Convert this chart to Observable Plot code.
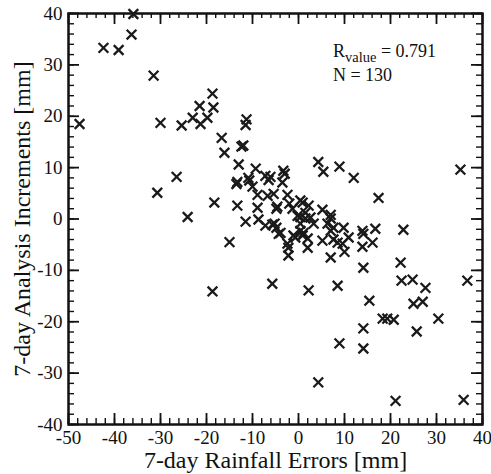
<!DOCTYPE html>
<html>
<head>
<meta charset="utf-8">
<script src="https://cdn.jsdelivr.net/npm/d3@7"></script>
<script src="https://cdn.jsdelivr.net/npm/@observablehq/plot@0.6"></script>
<style>
  html, body { margin: 0; padding: 0; background: #fff; }
  #chart { width: 491px; height: 474px; }
</style>
</head>
<body>
<div id="chart"></div>
<script>
// [rainfall error (mm), analysis increment (mm)]
const points = [
  [-47.6,18.5],[-42.4,33.3],[-39.1,32.9],[-36.3,35.9],[-35.9,39.9],[-31.5,27.9],[-30.0,18.7],[-30.7,5.1],
  [-25.4,18.2],[-26.5,8.2],[-23.0,19.7],[-21.5,22.0],[-21.3,18.5],[-19.8,19.7],[-18.7,24.4],[-18.5,21.7],
  [-24.1,0.4],[-18.3,3.2],[-16.7,15.8],[-16.1,12.9],[-12.4,14.1],[-12.0,14.3],[-13.0,10.6],[-13.5,6.8],
  [-13.3,7.2],[-13.3,2.6],[-11.5,-0.5],[-11.3,19.4],[-11.5,18.3],[-10.9,8.0],[-10.7,7.5],[-10.0,6.3],
  [-15.0,-4.5],[-18.7,-14.1],[-9.3,9.8],[-8.9,4.7],[-8.9,2.2],[-8.7,-0.1],[-7.2,8.4],[-6.5,7.6],
  [-3.3,9.4],[-3.0,8.8],[-3.5,7.1],[-6.7,4.5],[-5.4,4.9],[-4.6,2.4],[-4.8,2.0],[-2.4,4.7],
  [-2.0,3.0],[-1.3,2.0],[0.9,3.2],[0.4,3.6],[2.2,2.6],[1.5,1.2],[5.2,1.8],[7.0,0.8],
  [-0.2,0.6],[4.3,11.1],[5.4,9.2],[8.9,10.2],[12.0,8.0],[17.4,4.1],[35.2,9.6],[-7.2,-1.3],
  [-5.7,-1.1],[-5.2,-0.9],[-4.8,-1.7],[-3.9,-2.7],[-4.3,-2.9],[-2.4,-4.8],[-2.2,-5.6],[-2.2,-7.1],
  [-1.1,-3.2],[-0.7,-3.6],[0.4,-2.3],[0.4,-0.9],[1.5,0.1],[2.6,0.3],[3.3,-0.9],[0.9,-3.2],
  [1.1,-2.7],[2.0,-3.8],[2.0,-5.6],[5.2,-4.2],[6.3,-0.9],[7.0,-2.3],[7.6,-4.0],[7.0,-7.5],
  [8.5,-4.6],[7.6,-1.7],[9.8,-1.7],[10.9,-3.6],[9.6,-4.8],[10.0,-6.4],[14.1,-2.9],[13.9,-2.3],
  [16.7,-1.9],[16.1,-4.6],[13.9,-5.4],[22.8,-2.1],[14.1,-9.5],[22.2,-8.5],[22.4,-12.0],[24.8,-11.8],
  [27.6,-13.4],[36.7,-12.0],[-5.7,-12.6],[2.2,-13.9],[8.5,-13.0],[15.4,-15.9],[25.0,-16.5],[27.0,-16.1],
  [18.3,-19.4],[19.3,-19.4],[20.7,-19.6],[30.4,-19.4],[14.1,-21.3],[25.7,-21.9],[8.9,-24.2],[14.1,-25.2],
  [4.3,-31.8],[21.1,-35.4],[35.9,-35.2],[7.0,0.1],[-6.1,8.2],[0.4,0.4]
];
const xMajor = [-50,-40,-30,-20,-10,0,10,20,30,40];
const yMajor = [-40,-30,-20,-10,0,10,20,30,40];
const xMinor = d3.range(-50, 41, 2);
const yMinor = d3.range(-40, 41, 2);
const xTitle = "7-day Rainfall Errors [mm]";
const yTitle = "7-day Analysis Increments [mm]";
const rValue = "0.791";
const nCount = "130";

const W = 491, H = 474;
const mL = 68, mR = 9, mT = 13, mB = 50;
const innerW = W - mL - mR, innerH = H - mT - mB;
const font = "'Liberation Serif', 'Times New Roman', serif";
const majorLen = 11, minorLen = 6;

const plot = Plot.plot({
  width: W, height: H,
  marginLeft: mL, marginRight: mR, marginTop: mT, marginBottom: mB,
  style: { fontFamily: font, background: "#fff", color: "#111", overflow: "visible" },
  x: { domain: [-50, 40] },
  y: { domain: [-40, 40] },
  marks: [
    // minor and major ticks, pointing inward on all four sides
    Plot.tickX(xMinor, { x: d => d, insetTop: innerH - minorLen, stroke: "#111", strokeWidth: 1.4 }),
    Plot.tickX(xMinor, { x: d => d, insetBottom: innerH - minorLen + 1, stroke: "#111", strokeWidth: 1.4 }),
    Plot.tickX(xMajor, { x: d => d, insetTop: innerH - majorLen, stroke: "#111", strokeWidth: 1.8 }),
    Plot.tickX(xMajor, { x: d => d, insetBottom: innerH - majorLen, stroke: "#111", strokeWidth: 1.8 }),
    Plot.tickY(yMinor, { y: d => d, insetRight: innerW - minorLen, stroke: "#111", strokeWidth: 1.4 }),
    Plot.tickY(yMinor, { y: d => d, insetLeft: innerW - minorLen, stroke: "#111", strokeWidth: 1.4 }),
    Plot.tickY(yMajor, { y: d => d, insetRight: innerW - majorLen, stroke: "#111", strokeWidth: 1.8 }),
    Plot.tickY(yMajor, { y: d => d, insetLeft: innerW - majorLen, stroke: "#111", strokeWidth: 1.8 }),
    Plot.frame({ stroke: "#111", strokeWidth: 2.5 }),
    Plot.axisX({ ticks: xMajor, tickSize: 0, tickPadding: 6, fontSize: 19, tickFormat: d => String(d), label: null }),
    Plot.axisY({ ticks: yMajor, tickSize: 0, tickPadding: 6, fontSize: 19, tickFormat: d => String(d), label: null }),
    Plot.dot(points, { x: d => d[0], y: d => d[1], symbol: "times", r: 4.5, stroke: "#1a1a1a", strokeWidth: 2.3, fill: "none" }),
    Plot.text([xTitle], { frameAnchor: "bottom", dy: 43, textAnchor: "middle", fontSize: 24, fill: "#111" }),
    Plot.text([yTitle], { frameAnchor: "left", dx: -46, rotate: -90, textAnchor: "middle", fontSize: 24, fill: "#111" })
  ]
});

document.getElementById("chart").appendChild(plot);

// R_value / N annotation with a real subscript
const sx = plot.scale("x"), sy = plot.scale("y");
const svg = d3.select(plot);
const ax = sx.apply(7.6);
const t1 = svg.append("text")
  .attr("x", ax).attr("y", sy.apply(31.4)).attr("text-anchor", "start")
  .attr("font-family", font).attr("font-size", 18).attr("fill", "#111");
t1.append("tspan").text("R");
t1.append("tspan").attr("font-size", 14.5).attr("dy", 5).text("value");
t1.append("tspan").attr("dy", -5).text(" = " + rValue);
svg.append("text")
  .attr("x", ax).attr("y", sy.apply(26.7)).attr("text-anchor", "start")
  .attr("font-family", font).attr("font-size", 18).attr("fill", "#111")
  .text("N = " + nCount);
</script>
</body>
</html>
